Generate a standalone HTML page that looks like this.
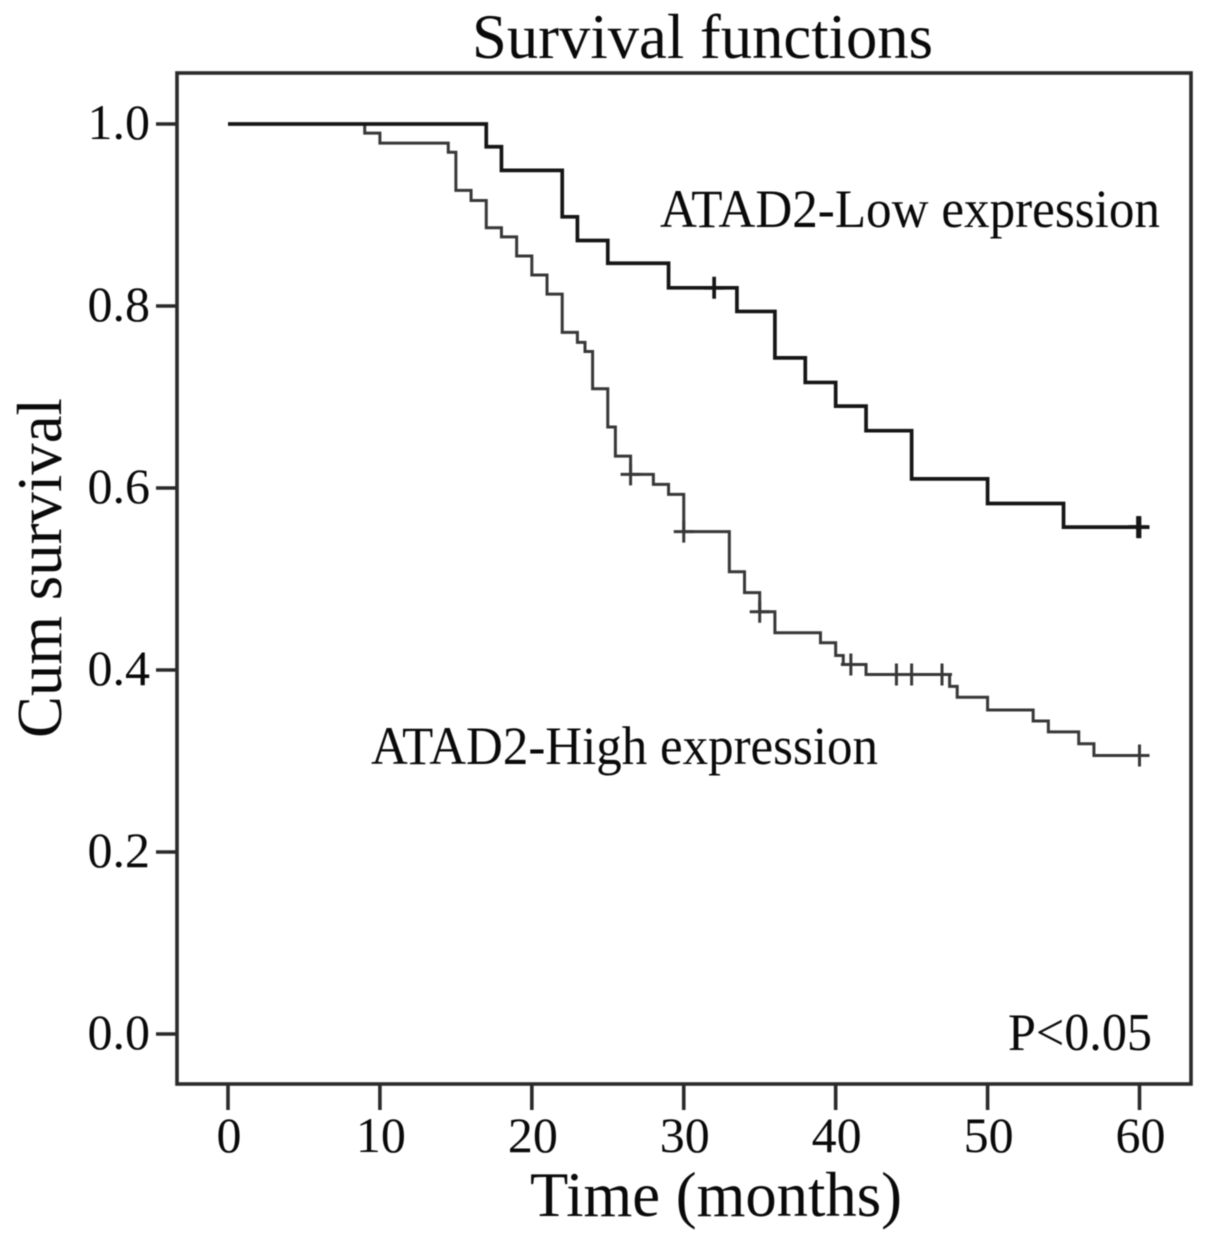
<!DOCTYPE html>
<html lang="en">
<head>
<meta charset="utf-8">
<title>Survival functions</title>
<style>
html,body{margin:0;padding:0;background:#fff;}
svg{display:block;filter:blur(0.45px);}
text{font-family:"Liberation Serif",serif;fill:#0a0a0a;}
</style>
</head>
<body>
<svg id="chart" xmlns="http://www.w3.org/2000/svg" width="1205" height="1240" viewBox="0 0 1205 1240">
  <text x="472" y="58" font-size="63" textLength="461" lengthAdjust="spacingAndGlyphs">Survival functions</text>
  <rect x="177" y="73" width="1014" height="1011" fill="none" stroke="#2a2a2a" stroke-width="3.6"/>
  <g id="axes"></g>
  <g id="series"></g>
  <text x="660" y="227" font-size="54" textLength="500" lengthAdjust="spacingAndGlyphs">ATAD2-Low expression</text>
  <text x="371" y="764" font-size="54" textLength="507" lengthAdjust="spacingAndGlyphs">ATAD2-High expression</text>
  <text x="1008" y="1050" font-size="53" textLength="144" lengthAdjust="spacingAndGlyphs">P&lt;0.05</text>
  <text x="530" y="1216" font-size="64" textLength="372" lengthAdjust="spacingAndGlyphs">Time (months)</text>
  <text transform="translate(61,738) rotate(-90)" font-size="63" textLength="340" lengthAdjust="spacingAndGlyphs">Cum survival</text>
</svg>
<script>
const xTickLabels = [0, 10, 20, 30, 40, 50, 60];
const yTickLabels = ["0.0", "0.2", "0.4", "0.6", "0.8", "1.0"];

const lowTimes = [0, 17, 18, 22, 23, 25, 29, 33.5, 36, 38, 40, 42, 45, 50, 55, 60];
const lowSurvival = [1, 0.975, 0.949, 0.898, 0.872, 0.847, 0.820, 0.794, 0.743, 0.716, 0.690, 0.663, 0.610, 0.583, 0.557, 0.557];
const lowCensored = [32, 59.9, 60];

const highTimes = [0, 9, 10, 14.5, 15, 16, 17, 18, 19, 20, 21, 22, 23, 23.5, 24, 25, 25.5, 26.5, 28, 29, 30, 33, 34, 35, 36, 39, 40, 40.5, 42, 47.5, 48, 50, 53, 54, 56, 57, 60];
const highSurvival = [1, 0.990, 0.979, 0.969, 0.927, 0.916, 0.886, 0.876, 0.855, 0.834, 0.813, 0.771, 0.760, 0.750, 0.709, 0.667, 0.635, 0.615, 0.604, 0.593, 0.552, 0.508, 0.485, 0.464, 0.441, 0.430, 0.416, 0.406, 0.395, 0.382, 0.370, 0.356, 0.344, 0.332, 0.319, 0.306, 0.306];
const highCensored = [26.5, 30, 35, 41, 44, 45, 47, 60];

const NS = 'http://www.w3.org/2000/svg';
const xScale = function (t) { return 228 + t * (1139.5 - 228) / 60; };
const yScale = function (s) { return 1034 - s * (1034 - 124); };
const axes = document.getElementById('axes');
const seriesGroup = document.getElementById('series');

function survivalAt(times, values, t) {
  let v = values[0];
  for (let i = 0; i < times.length; i++) {
    if (times[i] <= t) v = values[i];
  }
  return v;
}

function stepPath(times, values) {
  let d = 'M' + xScale(times[0]) + ' ' + yScale(values[0]);
  for (let i = 1; i < times.length; i++) {
    d += 'H' + xScale(times[i]) + 'V' + yScale(values[i]);
  }
  return d;
}

xTickLabels.forEach(function (v) {
  const tick = document.createElementNS(NS, 'line');
  
  
  tick.setAttribute('x1', xScale(v));
  tick.setAttribute('x2', xScale(v));
  tick.setAttribute('y1', 1084);
  tick.setAttribute('y2', 1110);
  tick.setAttribute('stroke', '#2a2a2a');
  tick.setAttribute('stroke-width', 3.6);
  axes.appendChild(tick);
  const label = document.createElementNS(NS, 'text');
  
  
  label.setAttribute('x', xScale(v) + 1);
  label.setAttribute('y', 1152);
  label.setAttribute('font-size', 50);
  label.setAttribute('text-anchor', 'middle');
  label.textContent = v;
  axes.appendChild(label);
});

yTickLabels.forEach(function (v) {
  const y = yScale(parseFloat(v));
  const tick = document.createElementNS(NS, 'line');
  
  
  tick.setAttribute('x1', 156);
  tick.setAttribute('x2', 177);
  tick.setAttribute('y1', y);
  tick.setAttribute('y2', y);
  tick.setAttribute('stroke', '#2a2a2a');
  tick.setAttribute('stroke-width', 3.6);
  axes.appendChild(tick);
  const label = document.createElementNS(NS, 'text');
  
  
  label.setAttribute('x', 150);
  label.setAttribute('y', y + 15);
  label.setAttribute('font-size', 50);
  label.setAttribute('text-anchor', 'end');
  label.textContent = v;
  axes.appendChild(label);
});

function drawSeries(key, times, values, censored, color, width) {
  const path = document.createElementNS(NS, 'path');
  
  
  path.setAttribute('d', stepPath(times, values));
  path.setAttribute('fill', 'none');
  path.setAttribute('stroke', color);
  path.setAttribute('stroke-width', width);
  seriesGroup.appendChild(path);
  censored.forEach(function (t) {
    const cx = xScale(t);
    const cy = yScale(survivalAt(times, values, t));
    const mark = document.createElementNS(NS, 'path');
    
    
    mark.setAttribute('d', 'M' + (cx - 10) + ' ' + cy + 'H' + (cx + 10) + 'M' + cx + ' ' + (cy - 11) + 'V' + (cy + 11));
    mark.setAttribute('fill', 'none');
    mark.setAttribute('stroke', color);
    mark.setAttribute('stroke-width', width);
    seriesGroup.appendChild(mark);
  });
}

drawSeries('high', highTimes, highSurvival, highCensored, '#383838', 3);
drawSeries('low', lowTimes, lowSurvival, lowCensored, '#161616', 3.7);
</script>
</body>
</html>
